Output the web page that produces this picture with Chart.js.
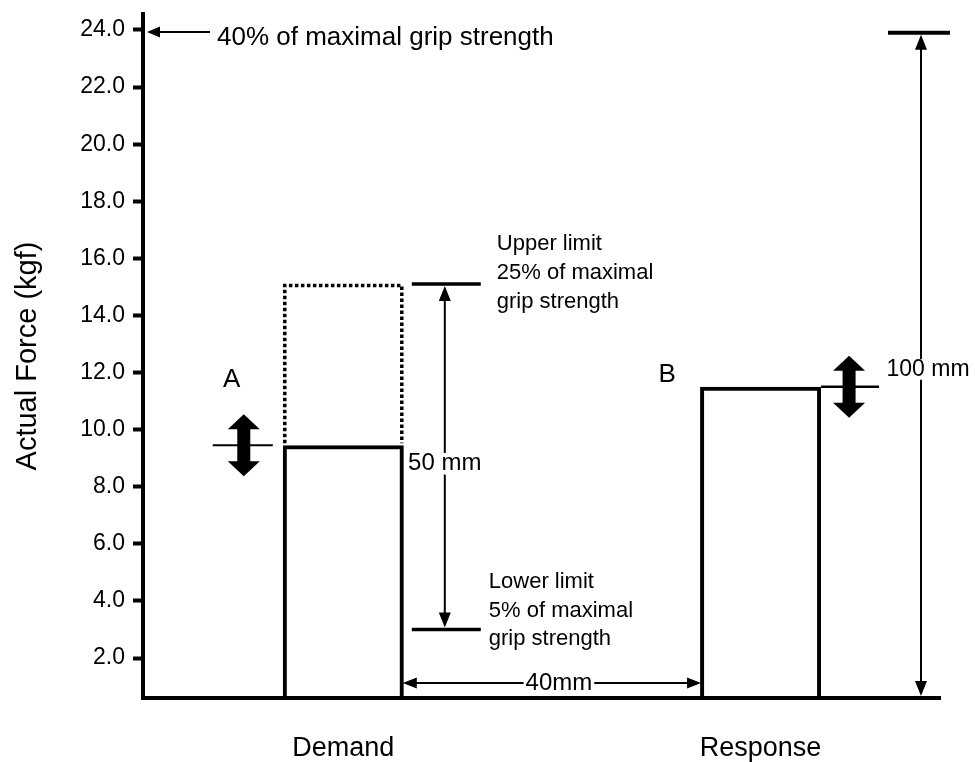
<!DOCTYPE html>
<html><head><meta charset="utf-8">
<script src="https://cdn.jsdelivr.net/npm/chart.js@4/dist/chart.umd.min.js"></script>
<style>html,body{margin:0;padding:0;background:#fff}#wrap{width:975px;height:762px;position:relative}</style>
</head><body><div id="wrap"><canvas id="c"></canvas></div>
<script>
const categories = ['Demand', 'Response'];
const forceValues = [9.45, 11.5];
const upperLimit = 15.1;
const demandDottedTop = 15.05;
const lowerLimit = 3.0;
const maxGripLine = 24.0;
const fullScaleTop = 23.9;
const yTickValues = [2, 4, 6, 8, 10, 12, 14, 16, 18, 20, 22, 24];
const yMin = 0.6, yMax = 24.56;
const xMin = 0.52, xMax = 2.43;
const FONT = "'Liberation Sans', Arial, sans-serif";

function line(ctx, x1, y1, x2, y2, w) {
  ctx.lineWidth = w; ctx.beginPath(); ctx.moveTo(x1, y1); ctx.lineTo(x2, y2); ctx.stroke();
}
function head(ctx, x, y, dir, len, half) {
  len = len || 14; half = half || 5.5;
  ctx.beginPath(); ctx.moveTo(x, y);
  if (dir === 'left') { ctx.lineTo(x + len, y - half); ctx.lineTo(x + len, y + half); }
  if (dir === 'right') { ctx.lineTo(x - len, y - half); ctx.lineTo(x - len, y + half); }
  if (dir === 'up') { ctx.lineTo(x - half, y + len); ctx.lineTo(x + half, y + len); }
  if (dir === 'down') { ctx.lineTo(x - half, y - len); ctx.lineTo(x + half, y - len); }
  ctx.closePath(); ctx.fill();
}
function thickDouble(ctx, cx, cy) {
  const hl = 31, hL = 15, hh = 16, sh = 6.5;
  ctx.beginPath();
  ctx.moveTo(cx, cy - hl);
  ctx.lineTo(cx + hh, cy - hl + hL); ctx.lineTo(cx + sh, cy - hl + hL);
  ctx.lineTo(cx + sh, cy + hl - hL); ctx.lineTo(cx + hh, cy + hl - hL);
  ctx.lineTo(cx, cy + hl);
  ctx.lineTo(cx - hh, cy + hl - hL); ctx.lineTo(cx - sh, cy + hl - hL);
  ctx.lineTo(cx - sh, cy - hl + hL); ctx.lineTo(cx - hh, cy - hl + hL);
  ctx.closePath(); ctx.fill();
}
function txt(ctx, s, x, y, size, align, base) {
  ctx.font = size + 'px ' + FONT; ctx.fillStyle = '#000';
  ctx.textAlign = align || 'left'; ctx.textBaseline = base || 'alphabetic';
  ctx.fillText(s, x, y);
}
function txtBg(ctx, s, x, y, size) {
  ctx.font = size + 'px ' + FONT;
  const w = ctx.measureText(s).width;
  ctx.fillStyle = '#fff'; ctx.fillRect(x - w / 2 - 2, y - size * 0.45, w + 4, size * 0.9);
  txt(ctx, s, x, y, size, 'center', 'middle');
}

const annot = {
  id: 'annot',
  afterDraw(chart) {
    const ctx = chart.ctx, xs = chart.scales.x, ys = chart.scales.y;
    const meta = chart.getDatasetMeta(0);
    const bD = meta.data[0], bR = meta.data[1];
    const dL = bD.x - bD.width / 2, dR = bD.x + bD.width / 2, dTop = bD.y;
    const rL = bR.x - bR.width / 2, rR = bR.x + bR.width / 2, rTop = bR.y;
    ctx.save();
    ctx.strokeStyle = '#000'; ctx.fillStyle = '#000'; ctx.lineCap = 'butt';

    // dotted box (upper limit target) over Demand bar
    const yDot = ys.getPixelForValue(demandDottedTop);
    ctx.lineWidth = 3.5; ctx.setLineDash([3.5, 2.5]);
    ctx.beginPath(); ctx.moveTo(dL + 2, dTop - 2); ctx.lineTo(dL + 2, yDot); ctx.lineTo(dR - 2, yDot); ctx.lineTo(dR - 2, dTop - 2); ctx.stroke();
    ctx.setLineDash([]);

    // 40% arrow
    const y40 = ys.getPixelForValue(maxGripLine) + 2;
    line(ctx, xs.left + 14, y40, xs.left + 67, y40, 2);
    head(ctx, xs.left + 4, y40, 'left', 13, 5.5);
    txt(ctx, '40% of maximal grip strength', xs.left + 74, y40 + 13, 26);

    // limits + 50 mm arrow
    const yU = ys.getPixelForValue(upperLimit), yLo = ys.getPixelForValue(lowerLimit);
    line(ctx, dR + 8, yU, dR + 77, yU, 3.5);
    line(ctx, dR + 8, yLo, dR + 77, yLo, 3.5);
    const ax = dR + 41;
    line(ctx, ax, yU + 14, ax, yLo - 14, 2);
    head(ctx, ax, yU + 2, 'up', 15, 6);
    head(ctx, ax, yLo - 2, 'down', 15, 6);
    txtBg(ctx, '50 mm', ax, (yU + yLo) / 2 + 7, 24);
    txt(ctx, 'Upper limit', dR + 93, yU - 34, 22);
    txt(ctx, '25% of maximal', dR + 93, yU - 5, 22);
    txt(ctx, 'grip strength', dR + 93, yU + 24, 22);
    txt(ctx, 'Lower limit', dR + 85, yLo - 41, 22);
    txt(ctx, '5% of maximal', dR + 85, yLo - 12, 22);
    txt(ctx, 'grip strength', dR + 85, yLo + 16, 22);

    // A marker
    ctx.strokeStyle = '#000';
    line(ctx, dL - 70, dTop, dL - 10, dTop, 2);
    thickDouble(ctx, dL - 39, dTop);
    txt(ctx, 'A', dL - 51, dTop - 66, 26, 'center', 'middle');

    // B marker
    line(ctx, rR, rTop, rR + 58, rTop, 2.5);
    thickDouble(ctx, rR + 28, rTop);
    txt(ctx, 'B', rL - 33, rTop - 12, 26, 'center', 'middle');

    // 100 mm full scale
    const y100 = ys.getPixelForValue(fullScaleTop);
    line(ctx, xs.right - 52, y100, xs.right + 10, y100, 4);
    const vx = xs.right - 19;
    line(ctx, vx, y100 + 14, vx, ys.bottom - 16, 2);
    head(ctx, vx, y100 + 2, 'up', 15, 6);
    head(ctx, vx, ys.bottom - 2, 'down', 15, 6);
    txtBg(ctx, '100 mm', xs.right - 12, (y100 + ys.bottom) / 2 + 4, 23);

    // 40 mm horizontal
    const yH = ys.bottom - 15;
    line(ctx, dR + 10, yH, rL - 10, yH, 2);
    head(ctx, dR - 1, yH, 'left', 14, 5.5);
    head(ctx, rL + 1, yH, 'right', 14, 5.5);
    txtBg(ctx, '40mm', (dR + rL) / 2 + 7, yH, 24);
    ctx.restore();
  }
};

new Chart(document.getElementById('c'), {
  type: 'bar',
  data: {
    datasets: [{
      data: categories.map((c, i) => ({ x: i + 1, y: forceValues[i] })),
      backgroundColor: 'rgba(0,0,0,0)', borderColor: '#000', borderWidth: 4,
      borderSkipped: 'bottom', base: yMin, barPercentage: 0.29, categoryPercentage: 1
    }]
  },
  options: {
    responsive: true, maintainAspectRatio: false, animation: false,
    layout: { padding: { top: 14, right: 35, bottom: 0, left: 0 } },
    plugins: { legend: { display: false }, tooltip: { enabled: false } },
    scales: {
      x: {
        type: 'linear', min: xMin, max: xMax, offset: false,
        afterBuildTicks: s => { s.ticks = categories.map((c, i) => ({ value: i + 1 })); },
        ticks: { callback: v => categories[Math.round(v) - 1], font: { family: FONT, size: 27 }, color: '#000', padding: 26, maxRotation: 0, autoSkip: false },
        grid: { display: false, offset: false },
        border: { display: true, color: '#000', width: 4 },
        afterFit: s => { s.height = 64; s.paddingLeft = 0; s.paddingRight = 0; }
      },
      y: {
        type: 'linear', min: yMin, max: yMax,
        afterBuildTicks: s => { s.ticks = yTickValues.map(v => ({ value: v })); },
        ticks: { callback: v => Number(v).toFixed(1), font: { family: FONT, size: 23 }, color: '#000', padding: 8, autoSkip: false },
        grid: { drawOnChartArea: false, drawTicks: true, tickLength: 10, tickWidth: 4, tickColor: '#000' },
        border: { display: true, color: '#000', width: 4 },
        title: { display: true, text: 'Actual Force (kgf)', font: { family: FONT, size: 29 }, color: '#000', padding: { top: 11, bottom: 0 } },
        afterFit: s => { s.width = 143; s.paddingTop = 0; s.paddingBottom = 0; }
      }
    }
  },
  plugins: [annot]
});
</script>
</body></html>
